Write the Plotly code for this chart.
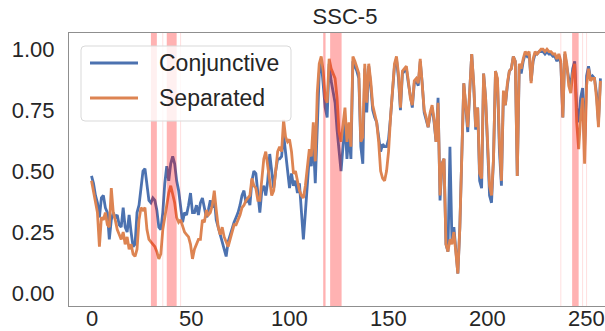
import plotly.graph_objects as go

conjunctive = [
    0.48, 0.45, 0.40, 0.37, 0.31, 0.39, 0.40, 0.35, 0.33, 0.22,
    0.30, 0.33, 0.31, 0.32, 0.28, 0.27, 0.35, 0.27, 0.25, 0.32,
    0.25, 0.19, 0.20, 0.33, 0.36, 0.44, 0.50, 0.51, 0.44, 0.38,
    0.37, 0.39, 0.38, 0.34, 0.27, 0.26, 0.33, 0.45, 0.52, 0.46,
    0.53, 0.56, 0.53, 0.46, 0.42, 0.36, 0.29, 0.33, 0.32, 0.36,
    0.41, 0.33, 0.33, 0.36, 0.32, 0.37, 0.39, 0.35, 0.31, 0.34,
    0.38, 0.35, 0.39, 0.30, 0.27, 0.24, 0.21, 0.18, 0.15, 0.21,
    0.24, 0.26, 0.29, 0.31, 0.33, 0.36, 0.40, 0.42, 0.37, 0.39,
    0.36, 0.46, 0.50, 0.49, 0.40, 0.33, 0.42, 0.44, 0.40, 0.46,
    0.57, 0.49, 0.43, 0.50, 0.55, 0.55, 0.56, 0.65, 0.58, 0.50,
    0.43, 0.49, 0.44, 0.46, 0.41, 0.45, 0.32, 0.22, 0.33, 0.44,
    0.56, 0.52, 0.63, 0.45, 0.72, 0.90, 0.95, 0.87, 0.76, 0.72,
    0.94, 0.87, 0.82, 0.78, 0.67, 0.58, 0.50, 0.60, 0.70, 0.55,
    0.65, 0.55, 0.95, 0.93, 0.91, 0.88, 0.60, 0.53, 0.92, 0.74,
    0.93, 0.85, 0.75, 0.72, 0.70, 0.64, 0.58, 0.61, 0.60, 0.60,
    0.63, 0.72, 0.83, 0.93, 0.96, 0.88, 0.75, 0.90, 0.91, 0.92,
    0.86, 0.80, 0.76, 0.86, 0.87, 0.85, 0.95, 0.86, 0.74, 0.71,
    0.68, 0.73, 0.76, 0.70, 0.62, 0.80, 0.38, 0.53, 0.55, 0.20,
    0.17, 0.60, 0.22, 0.27, 0.18, 0.08, 0.27, 0.55, 0.86, 0.76,
    0.66, 0.83, 0.98, 0.85, 0.67, 0.76, 0.46, 0.43, 0.90, 0.80,
    0.62, 0.40, 0.37, 0.55, 0.91, 0.87, 0.58, 0.44, 0.82, 0.77,
    0.85, 0.91, 0.92, 0.97, 0.95, 0.48, 0.93, 0.90, 0.95, 0.98,
    0.97, 0.98, 0.87, 0.95, 0.98, 0.98, 0.99, 0.99, 0.99, 0.98,
    0.99, 0.98, 0.98, 0.97, 0.97, 0.95, 0.97, 0.94, 0.72, 0.98,
    0.93, 0.88, 0.85, 0.92, 0.95, 0.76, 0.70, 0.80, 0.84, 0.60,
    0.89, 0.93, 0.88, 0.89, 0.88, 0.82, 0.70, 0.88,
]

separated = [
    0.46, 0.42, 0.37, 0.33, 0.19, 0.31, 0.30, 0.33, 0.28, 0.27,
    0.43, 0.33, 0.30, 0.26, 0.24, 0.22, 0.25, 0.20, 0.23, 0.18,
    0.20, 0.16, 0.15, 0.18, 0.30, 0.35, 0.34, 0.35, 0.26, 0.22,
    0.21, 0.20, 0.19, 0.17, 0.14, 0.16, 0.26, 0.31, 0.37, 0.41,
    0.44, 0.40, 0.37, 0.31, 0.29, 0.30, 0.27, 0.25, 0.24, 0.23,
    0.20, 0.14, 0.18, 0.20, 0.22, 0.22, 0.30, 0.29, 0.34, 0.32,
    0.33, 0.36, 0.42, 0.34, 0.27, 0.24, 0.27, 0.23, 0.21, 0.19,
    0.22, 0.25, 0.28, 0.28, 0.30, 0.32, 0.35, 0.36, 0.38, 0.39,
    0.40, 0.47, 0.44, 0.43, 0.38, 0.38, 0.47, 0.55, 0.58, 0.52,
    0.48, 0.40, 0.42, 0.50, 0.58, 0.60, 0.58, 0.71, 0.64, 0.62,
    0.63, 0.58, 0.49, 0.50, 0.46, 0.42, 0.40, 0.39, 0.44, 0.52,
    0.59, 0.56, 0.70, 0.54, 0.82, 0.94, 0.97, 0.91, 0.80, 0.78,
    0.96, 0.92, 0.90, 0.88, 0.80, 0.66, 0.62, 0.70, 0.76, 0.62,
    0.70, 0.60, 0.97, 0.95, 0.92, 0.90, 0.62, 0.64, 0.94, 0.78,
    0.94, 0.87, 0.77, 0.73, 0.70, 0.62, 0.50, 0.47, 0.46, 0.50,
    0.58, 0.72, 0.84, 0.94, 0.97, 0.90, 0.76, 0.91, 0.92, 0.93,
    0.87, 0.80, 0.77, 0.87, 0.88, 0.86, 0.96, 0.87, 0.75, 0.72,
    0.68, 0.74, 0.77, 0.71, 0.62, 0.78, 0.40, 0.53, 0.55, 0.20,
    0.17, 0.22, 0.20, 0.25, 0.16, 0.08, 0.27, 0.55, 0.86, 0.77,
    0.68, 0.83, 0.98, 0.86, 0.68, 0.76, 0.49, 0.47, 0.90, 0.80,
    0.64, 0.44, 0.40, 0.55, 0.91, 0.88, 0.62, 0.46, 0.83, 0.77,
    0.86, 0.91, 0.92, 0.97, 0.95, 0.48, 0.94, 0.92, 0.96, 0.99,
    0.98, 0.99, 0.86, 0.96, 0.99, 0.98, 0.99, 1.00, 1.00, 0.99,
    1.00, 0.99, 0.99, 0.98, 0.98, 0.96, 0.98, 0.95, 0.72, 0.99,
    0.94, 0.85, 0.82, 0.90, 0.94, 0.70, 0.59, 0.72, 0.80, 0.53,
    0.85, 0.92, 0.87, 0.88, 0.88, 0.80, 0.68, 0.87,
]

steps = list(range(len(conjunctive)))

band_starts = [30, 38, 117, 120.5, 242.7]
band_ends = [33, 43, 118.2, 126.3, 246]
thin_marks = [36, 45, 237, 248, 250]

x_ticks = [0, 50, 100, 150, 200, 250]
y_ticks = [0.0, 0.25, 0.5, 0.75, 1.0]

title_text = "SSC-5"
series_names = ["Conjunctive", "Separated"]
colors = ["#4c72b0", "#dd8452"]

W, H = 605, 331
L, R, T, B = 69, 0, 33, 25
PW, PH = W - L - R, H - T - B

def px(xp):
    return (xp - L) / PW

def py(yp):
    return (H - B - yp) / PH

fig = go.Figure()
for name, vals, col in zip(series_names, [conjunctive, separated], colors):
    fig.add_trace(go.Scatter(x=steps, y=vals, mode="lines", name=name,
                             line=dict(color=col, width=2.8), showlegend=False))

shapes = []
for s, e in zip(band_starts, band_ends):
    shapes.append(dict(type="rect", xref="x", yref="paper", x0=s, x1=e, y0=0, y1=1,
                       fillcolor="rgba(255,0,0,0.3)", line=dict(width=0), layer="above"))
for m in thin_marks:
    shapes.append(dict(type="line", xref="x", yref="paper", x0=m, x1=m, y0=0, y1=1,
                       line=dict(color="rgba(255,0,0,0.13)", width=1), layer="above"))

# legend box (rounded)
bx0, bx1, by0, by1 = 81, 291, 46, 121
r = 4
rx, ry = r / PW, r / PH
X0, X1, Y0, Y1 = px(bx0), px(bx1), py(by1), py(by0)
path = (f"M {X0+rx},{Y1} L {X1-rx},{Y1} Q {X1},{Y1} {X1},{Y1-ry} "
        f"L {X1},{Y0+ry} Q {X1},{Y0} {X1-rx},{Y0} L {X0+rx},{Y0} "
        f"Q {X0},{Y0} {X0},{Y0+ry} L {X0},{Y1-ry} Q {X0},{Y1} {X0+rx},{Y1} Z")
shapes.append(dict(type="path", xref="paper", yref="paper", path=path,
                   fillcolor="rgba(255,255,255,0.8)", line=dict(color="#d9d9d9", width=1),
                   layer="above"))
annotations = []
for i, (name, col) in enumerate(zip(series_names, colors)):
    yy = py(63 + 35 * i)
    shapes.append(dict(type="line", xref="paper", yref="paper", x0=px(90), x1=px(138),
                       y0=yy, y1=yy, line=dict(color=col, width=2.8), layer="above"))
    annotations.append(dict(xref="paper", yref="paper", x=px(157), y=yy, text=name,
                            showarrow=False, xanchor="left", yanchor="middle",
                            font=dict(size=23, color="#262626")))

# x tick labels placed just under the bottom spine
for v in x_ticks:
    annotations.append(dict(xref="x", yref="paper", x=v, y=py(318), text=str(v),
                            showarrow=False, xanchor="center", yanchor="middle",
                            borderpad=0, font=dict(size=22, color="#262626")))

fig.update_layout(
    width=W, height=H,
    margin=dict(l=L, r=R, t=T, b=B, pad=0, autoexpand=False),
    paper_bgcolor="white", plot_bgcolor="white",
    font=dict(family="Liberation Sans, Arial, sans-serif", size=22, color="#262626"),
    title=dict(text=title_text, x=345 / W, y=1 - 16 / H, xref="container", yref="container",
               xanchor="center", yanchor="middle", font=dict(size=22, color="#262626")),
    shapes=shapes, annotations=annotations,
    xaxis=dict(range=[-11.36, 259.3], tickvals=x_ticks, showticklabels=False,
               showgrid=False, zeroline=False,
               showline=True, linecolor="#8f8f8f", linewidth=1.2, mirror=True,
               ticks="", automargin=False),
    yaxis=dict(range=[-0.053, 1.066], tickvals=y_ticks, tickformat=".2f", showgrid=False,
               zeroline=False, showline=True, linecolor="#8f8f8f", linewidth=1.2,
               ticks="outside", ticklen=9, tickcolor="rgba(0,0,0,0)", automargin=False),
)

fig.write_html("out.html")
